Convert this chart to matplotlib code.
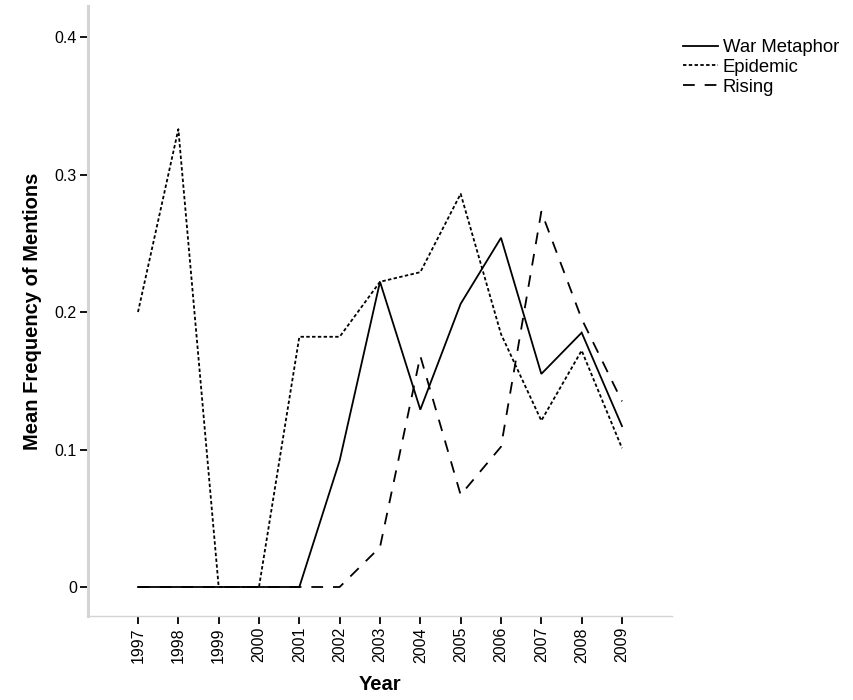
import matplotlib
matplotlib.use("Agg")
import matplotlib.pyplot as plt
from matplotlib.lines import Line2D

years = [1997, 1998, 1999, 2000, 2001, 2002, 2003, 2004, 2005, 2006, 2007, 2008, 2009]
war_metaphor = [0, 0, 0, 0, 0, 0.092, 0.222, 0.129, 0.206, 0.254, 0.155, 0.185, 0.117]
epidemic = [0.2, 0.333, 0, 0, 0.182, 0.182, 0.222, 0.229, 0.286, 0.184, 0.121, 0.172, 0.101]
rising = [0, 0, 0, 0, 0, 0, 0.029, 0.168, 0.067, 0.102, 0.273, 0.195, 0.135]
yticks = [0, 0.1, 0.2, 0.3, 0.4]
ytick_labels = ["0", "0.1", "0.2", "0.3", "0.4"]

plt.rcParams["font.family"] = ["Liberation Sans", "DejaVu Sans"]

fig = plt.figure(figsize=(8.54, 7.0), dpi=100)
ax = fig.add_axes([88 / 854, 84 / 700, 584 / 854, 610 / 700])

ax.plot(years, war_metaphor, color="black", lw=1.3, solid_joinstyle="miter")
ax.plot(years, epidemic, color="black", lw=1.3, linestyle=(0, (1.9, 1.3)))
ax.plot(years, rising, color="black", lw=1.3, linestyle=(0, (6.5, 5.5)))

ax.set_xlim(1995.76, 2010.24)
ax.set_ylim(-0.0211, 0.4226)
ax.set_xticks(years)
ax.set_xticklabels([str(y) for y in years], rotation=90, fontsize=11.5)
ax.set_yticks(yticks)
ax.set_yticklabels(ytick_labels, fontsize=11.5)

for side in ("top", "right"):
    ax.spines[side].set_visible(False)
for side in ("left", "bottom"):
    ax.spines[side].set_color("#d4d4d4")
ax.spines["left"].set_linewidth(2.2)
ax.spines["bottom"].set_linewidth(1.0)
ax.tick_params(axis="both", direction="out", length=6, width=1.3, color="black", pad=2)

ax.set_xlabel("Year", fontsize=14.5, fontweight="bold", labelpad=9)
ax.set_ylabel("Mean Frequency of Mentions", fontsize=14.5, fontweight="bold", labelpad=9)

handles = [
    Line2D([], [], color="black", lw=1.3),
    Line2D([], [], color="black", lw=1.3, linestyle=(0, (1.9, 1.3))),
    Line2D([], [], color="black", lw=1.3, linestyle=(0, (6.5, 5.5))),
]
fig.legend(handles, ["War Metaphor", "Epidemic", "Rising"],
           loc="upper left", bbox_to_anchor=(683 / 854, 1 - 39 / 700),
           frameon=False, fontsize=13.3, handlelength=1.9, handletextpad=0.25,
           labelspacing=0.15, borderaxespad=0, borderpad=0)

fig.savefig("out.png", dpi=100)
